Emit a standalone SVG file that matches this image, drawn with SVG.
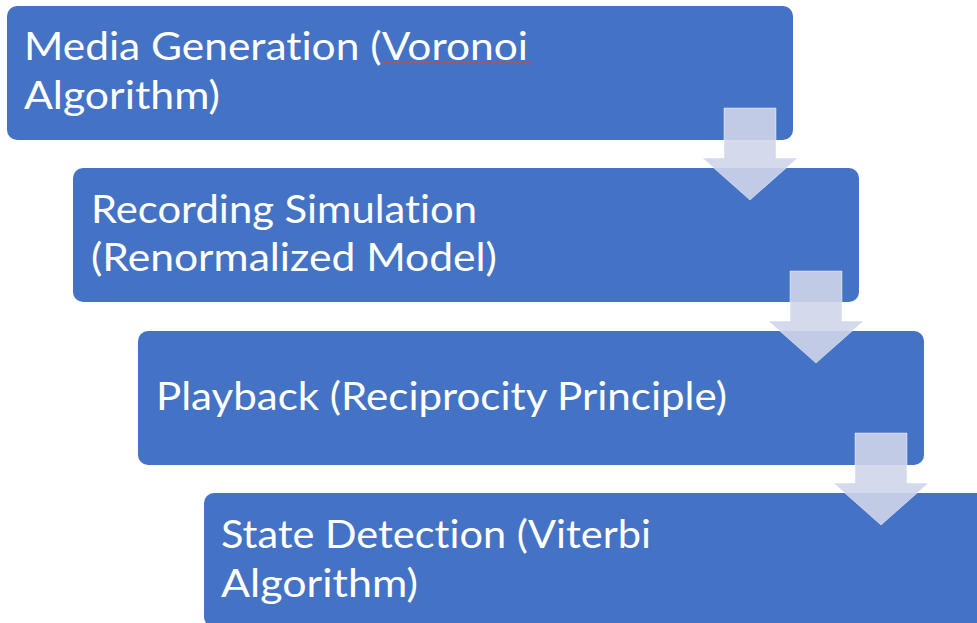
<svg xmlns="http://www.w3.org/2000/svg" width="977" height="623" viewBox="0 0 977 623">
  <defs>
    <style>
      .step { fill: #4472C4; }
      .label { font-family: Lato, "Open Sans", "Noto Sans", sans-serif; font-size: 38px; fill: #FFFFFF; font-variant-ligatures: none; font-feature-settings: "liga" 0, "clig" 0; }
      .flow { fill: #CFD5EA; fill-opacity: 0.9; stroke: #FFFFFF; stroke-opacity: 0.45; stroke-width: 1; }
      .spell { fill: none; stroke: #C0504D; stroke-width: 1; }
    </style>
    <!-- down arrow, origin at the top centre of the shaft -->
    <polygon id="down-arrow" points="-26,0 26,0 26,50 47.5,50 0,92 -47.5,50 -26,50"/>
  </defs>

  <rect width="977" height="623" fill="#FFFFFF"/>

  <g id="step-media-generation">
    <rect class="step" x="7" y="6" width="786" height="134" rx="10"/>
    <text class="label" x="24" y="60" textLength="504" lengthAdjust="spacingAndGlyphs">Media Generation (Voronoi</text>
    <text class="label" x="24" y="109" textLength="196" lengthAdjust="spacingAndGlyphs">Algorithm)</text>
    <path class="spell" d="M382,62 l2,1.2 l2,-1.2 l2,1.2 l2,-1.2 l2,1.2 l2,-1.2 l2,1.2 l2,-1.2 l2,1.2 l2,-1.2 l2,1.2 l2,-1.2 l2,1.2 l2,-1.2 l2,1.2 l2,-1.2 l2,1.2 l2,-1.2 l2,1.2 l2,-1.2 l2,1.2 l2,-1.2 l2,1.2 l2,-1.2 l2,1.2 l2,-1.2 l2,1.2 l2,-1.2 l2,1.2 l2,-1.2 l2,1.2 l2,-1.2 l2,1.2 l2,-1.2 l2,1.2 l2,-1.2 l2,1.2 l2,-1.2 l2,1.2 l2,-1.2 l2,1.2 l2,-1.2 l2,1.2 l2,-1.2 l2,1.2 l2,-1.2 l2,1.2 l2,-1.2 l2,1.2 l2,-1.2 l2,1.2 l2,-1.2 l2,1.2 l2,-1.2 l2,1.2 l2,-1.2 l2,1.2 l2,-1.2 l2,1.2 l2,-1.2 l2,1.2 l2,-1.2 l2,1.2 l2,-1.2 l2,1.2 l2,-1.2 l2,1.2 l2,-1.2 l2,1.2 l2,-1.2 l2,1.2 l2,-1.2 l2,1.2 l2,-1.2 l2,1.2"/>
  </g>

  <g id="step-recording-simulation">
    <rect class="step" x="73" y="168" width="786" height="134" rx="10"/>
    <text class="label" x="91" y="223" textLength="386" lengthAdjust="spacingAndGlyphs">Recording Simulation</text>
    <text class="label" x="91" y="271" textLength="406" lengthAdjust="spacingAndGlyphs">(Renormalized Model)</text>
  </g>

  <g id="step-playback">
    <rect class="step" x="138" y="331" width="786" height="134" rx="10"/>
    <text class="label" x="156" y="410" textLength="571" lengthAdjust="spacingAndGlyphs">Playback (Reciprocity Principle)</text>
  </g>

  <g id="step-state-detection">
    <rect class="step" x="204" y="493" width="786" height="134" rx="10"/>
    <text class="label" x="221" y="548" textLength="430" lengthAdjust="spacingAndGlyphs">State Detection (Viterbi</text>
    <text class="label" x="221" y="597" textLength="197" lengthAdjust="spacingAndGlyphs">Algorithm)</text>
  </g>

  <g id="connectors">
    <use href="#down-arrow" class="flow" transform="translate(750,108)"/>
    <use href="#down-arrow" class="flow" transform="translate(816,271)"/>
    <use href="#down-arrow" class="flow" transform="translate(881,433)"/>
  </g>
</svg>
